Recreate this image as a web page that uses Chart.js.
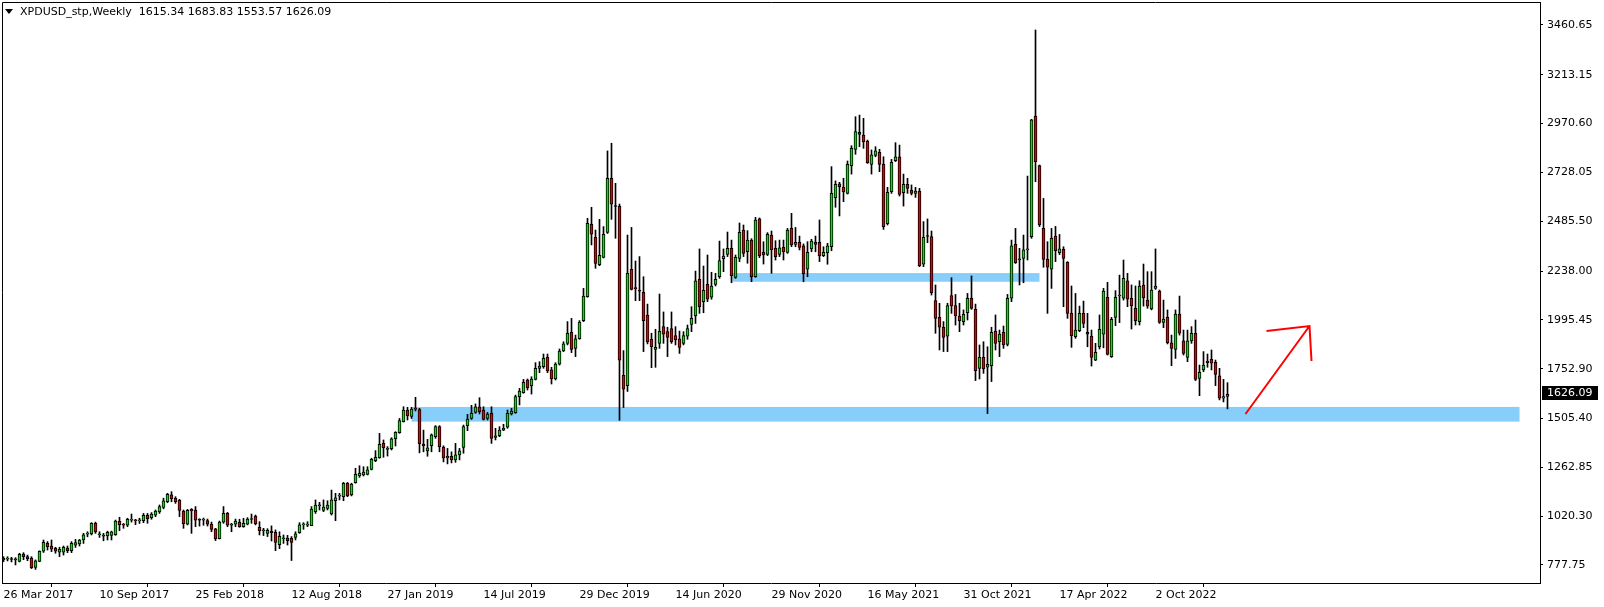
<!DOCTYPE html>
<html>
<head>
<meta charset="utf-8">
<title>XPDUSD Weekly</title>
<style>
html, body { margin: 0; padding: 0; background: #ffffff; }
#wrap { position: relative; width: 1604px; height: 607px; }
</style>
</head>
<body>
<div id="wrap"><canvas id="chart" width="1604" height="607"></canvas></div>
<script src="https://cdn.jsdelivr.net/npm/chart.js"></script>
<script>
  const headerText = 'XPDUSD_stp,Weekly  1615.34 1683.83 1553.57 1626.09';

  // weekly candles, first bar is the week of 26 Mar 2017
  const opens = [
    811, 807, 806, 805, 796, 832, 819, 812, 766, 796,
    846, 885, 872, 861, 842, 842, 862, 849, 876, 882,
    902, 931, 932, 985, 928, 922, 922, 925, 928, 995,
    977, 975, 1001, 998, 997, 998, 1025, 1013, 1025, 1041,
    1064, 1092, 1126, 1109, 1099, 1046, 980, 1054, 1051, 1001,
    1001, 999, 980, 957, 909, 991, 1034, 975, 980, 990,
    968, 981, 1004, 1021, 965, 948, 935, 945, 940, 879,
    908, 912, 910, 915, 938, 977, 976, 973, 1043, 1072,
    1049, 1059, 1031, 1097, 1120, 1117, 1184, 1126, 1187, 1220,
    1225, 1228, 1253, 1296, 1311, 1382, 1352, 1356, 1405, 1435,
    1490, 1548, 1516, 1553, 1550, 1379, 1345, 1371, 1415, 1465,
    1362, 1310, 1318, 1300, 1325, 1362, 1470, 1506, 1536, 1564,
    1548, 1506, 1531, 1412, 1420, 1448, 1462, 1528, 1535, 1614,
    1634, 1697, 1667, 1700, 1755, 1763, 1809, 1747, 1702, 1775,
    1841, 1879, 1934, 1854, 1902, 1992, 2111, 2470, 2406, 2270,
    2306, 2430, 2699, 2560, 2560, 1720, 1669, 2247, 2156, 2139,
    2132, 2020, 1899, 1849, 1879, 1962, 1937, 1952, 1917, 1902,
    1879, 1915, 1973, 2015, 2197, 2086, 2172, 2108, 2172, 2210,
    2300, 2321, 2351, 2207, 2301, 2442, 2334, 2392, 2210, 2497,
    2331, 2321, 2417, 2351, 2321, 2356, 2331, 2450, 2371, 2381,
    2363, 2247, 2348, 2381, 2381, 2315, 2330, 2359, 2603, 2671,
    2654, 2624, 2762, 2843, 2927, 2914, 2884, 2768, 2813, 2828,
    2770, 2474, 2633, 2787, 2806, 2628, 2669, 2641, 2624, 2636,
    2272, 2412, 2409, 2091, 2008, 1959, 1915, 2116, 2066, 2015,
    1987, 2031, 2103, 2048, 1755, 1809, 1760, 1768, 1940, 1887,
    1934, 1874, 2103, 2371, 2296, 2301, 2343, 2409, 3008, 2762,
    2450, 2298, 2247, 2412, 2330, 2346, 2281, 2028, 1912, 1942,
    2028, 1934, 1915, 1796, 1862, 1924, 2108, 1813, 2008, 2114,
    2103, 2189, 2103, 2053, 1987, 2169, 2094, 2050, 2152, 2139,
    1983, 2008, 1882, 1849, 2025, 1891, 1809, 1891, 1929, 1705,
    1747, 1791, 1800, 1785, 1718, 1606, 1615.34
  ];
  const highs = [
    819, 819, 816, 814, 836, 839, 827, 819, 803, 848,
    902, 894, 902, 866, 866, 872, 872, 894, 905, 905,
    935, 943, 988, 991, 943, 935, 946, 946, 1001, 1015,
    984, 1010, 1031, 1005, 1010, 1034, 1034, 1038, 1051, 1076,
    1110, 1134, 1142, 1117, 1104, 1051, 1054, 1058, 1068, 1008,
    1011, 1006, 991, 960, 996, 1068, 1039, 985, 1006, 1005,
    1010, 1013, 1031, 1026, 993, 960, 958, 972, 952, 943,
    927, 925, 919, 943, 988, 988, 993, 1068, 1101, 1089,
    1101, 1097, 1150, 1134, 1134, 1188, 1188, 1184, 1258, 1271,
    1266, 1266, 1308, 1346, 1432, 1399, 1366, 1410, 1440, 1506,
    1564, 1561, 1561, 1611, 1556, 1448, 1402, 1429, 1470, 1470,
    1370, 1357, 1340, 1382, 1357, 1473, 1526, 1571, 1578, 1609,
    1564, 1536, 1564, 1457, 1465, 1477, 1548, 1556, 1622, 1655,
    1700, 1702, 1713, 1783, 1788, 1826, 1826, 1760, 1783, 1851,
    1887, 1987, 2003, 1920, 1992, 2152, 2500, 2555, 2442, 2495,
    2459, 2835, 2873, 2674, 2571, 1843, 2417, 2455, 2288, 2310,
    2210, 2074, 1929, 1949, 2124, 2035, 1959, 2035, 1962, 1940,
    1937, 1970, 2061, 2238, 2348, 2263, 2318, 2232, 2227, 2387,
    2348, 2432, 2392, 2318, 2477, 2467, 2439, 2399, 2505, 2502,
    2384, 2429, 2437, 2389, 2392, 2392, 2450, 2525, 2455, 2412,
    2373, 2384, 2396, 2412, 2492, 2359, 2376, 2757, 2686, 2679,
    2699, 2785, 2861, 3005, 3013, 2997, 2889, 2840, 2856, 2843,
    2806, 2654, 2793, 2876, 2864, 2720, 2699, 2666, 2654, 2649,
    2484, 2497, 2437, 2169, 2078, 1987, 2078, 2205, 2122, 2078,
    2045, 2127, 2214, 2074, 1871, 1887, 1862, 1959, 2020, 1945,
    1965, 2122, 2392, 2450, 2351, 2417, 2710, 2992, 3436, 2765,
    2599, 2384, 2450, 2460, 2420, 2359, 2285, 2164, 2127, 2064,
    2089, 2028, 1945, 1879, 2020, 2152, 2182, 2008, 2141, 2218,
    2293, 2227, 2169, 2164, 2190, 2273, 2235, 2235, 2348, 2144,
    2094, 2045, 1920, 2045, 2114, 1945, 1945, 1962, 1995, 1771,
    1838, 1826, 1846, 1796, 1755, 1700, 1683.83
  ];
  const lows = [
    794, 798, 793, 778, 793, 804, 799, 760, 756, 794,
    840, 852, 844, 836, 819, 827, 839, 839, 865, 872,
    885, 918, 927, 935, 915, 898, 902, 902, 925, 948,
    960, 968, 991, 978, 984, 988, 985, 1005, 1018, 1034,
    1057, 1087, 1092, 1084, 1018, 960, 977, 935, 968, 971,
    975, 971, 943, 899, 907, 985, 968, 943, 968, 965,
    965, 977, 985, 977, 927, 924, 919, 897, 849, 859,
    885, 877, 800, 902, 935, 955, 968, 973, 1034, 1051,
    1043, 1051, 1026, 998, 1101, 1097, 1117, 1121, 1184, 1213,
    1220, 1225, 1250, 1291, 1308, 1313, 1319, 1349, 1369, 1432,
    1488, 1498, 1506, 1543, 1335, 1340, 1318, 1340, 1407, 1340,
    1290, 1280, 1285, 1288, 1300, 1333, 1445, 1501, 1531, 1528,
    1498, 1498, 1382, 1399, 1415, 1445, 1457, 1523, 1531, 1573,
    1631, 1647, 1627, 1697, 1733, 1755, 1733, 1677, 1697, 1771,
    1838, 1871, 1833, 1813, 1899, 1987, 2108, 2368, 2252, 2265,
    2303, 2425, 2495, 2401, 1497, 1560, 1640, 2144, 2091, 2091,
    1838, 1876, 1758, 1760, 1854, 1879, 1813, 1879, 1871, 1829,
    1871, 1899, 1937, 1978, 2028, 2031, 2086, 2098, 2164, 2202,
    2235, 2310, 2180, 2202, 2285, 2310, 2277, 2185, 2207, 2305,
    2273, 2315, 2227, 2293, 2310, 2293, 2326, 2359, 2359, 2343,
    2185, 2210, 2334, 2334, 2285, 2310, 2272, 2339, 2555, 2512,
    2583, 2621, 2720, 2818, 2856, 2848, 2773, 2720, 2806, 2732,
    2445, 2467, 2624, 2782, 2611, 2561, 2624, 2616, 2604, 2260,
    2260, 2379, 2119, 1929, 1846, 1838, 1838, 2028, 1970, 1937,
    1970, 1995, 2048, 1694, 1702, 1730, 1530, 1689, 1846, 1813,
    1854, 1866, 2086, 2276, 2169, 2180, 2293, 2401, 2682, 2459,
    2257, 2028, 2152, 2285, 2320, 2061, 2003, 1859, 1904, 1937,
    1957, 1862, 1766, 1793, 1851, 1857, 1821, 1809, 1967, 1982,
    2094, 2061, 1950, 1970, 1970, 2064, 2053, 2045, 2147, 1978,
    1957, 1876, 1768, 1804, 1920, 1821, 1788, 1879, 1694, 1619,
    1738, 1760, 1747, 1669, 1598, 1588, 1553.57
  ];
  const closes = [
    803, 808, 805, 803, 831, 819, 809, 765, 798, 846,
    890, 869, 856, 847, 856, 866, 849, 885, 889, 902,
    928, 932, 985, 942, 929, 921, 940, 943, 996, 978,
    976, 1005, 1002, 997, 999, 1025, 1008, 1031, 1046, 1068,
    1096, 1129, 1107, 1092, 1049, 983, 1049, 1046, 1001, 1000,
    1002, 981, 955, 909, 991, 1034, 975, 979, 996, 968,
    985, 1006, 1005, 983, 948, 949, 950, 938, 890, 920,
    909, 899, 890, 932, 977, 978, 977, 1056, 1076, 1073,
    1066, 1076, 1101, 1111, 1121, 1184, 1121, 1180, 1228, 1233,
    1240, 1250, 1303, 1313, 1377, 1361, 1353, 1404, 1437, 1495,
    1548, 1518, 1553, 1552, 1380, 1369, 1360, 1424, 1465, 1366,
    1310, 1318, 1300, 1325, 1345, 1465, 1503, 1531, 1564, 1540,
    1501, 1528, 1407, 1420, 1448, 1457, 1531, 1543, 1614, 1642,
    1685, 1659, 1702, 1755, 1766, 1804, 1742, 1702, 1776, 1841,
    1876, 1929, 1849, 1901, 1985, 2114, 2475, 2421, 2276, 2316,
    2421, 2699, 2570, 2559, 1795, 1651, 2227, 2147, 2150, 2138,
    1992, 1886, 1862, 1859, 1939, 1925, 1909, 1887, 1896, 1859,
    1917, 1952, 2003, 2190, 2061, 2142, 2098, 2164, 2197, 2290,
    2313, 2351, 2215, 2306, 2431, 2326, 2392, 2210, 2492, 2315,
    2318, 2421, 2343, 2310, 2354, 2334, 2442, 2368, 2381, 2356,
    2224, 2331, 2387, 2371, 2313, 2331, 2363, 2624, 2669, 2657,
    2633, 2768, 2848, 2931, 2917, 2881, 2777, 2815, 2835, 2768,
    2459, 2629, 2778, 2806, 2619, 2669, 2649, 2624, 2636, 2265,
    2406, 2410, 2131, 2003, 1959, 1909, 2066, 2065, 2015, 1992,
    2023, 2103, 2053, 1743, 1809, 1752, 1775, 1934, 1879, 1925,
    1871, 2103, 2364, 2280, 2294, 2343, 2345, 2989, 2782, 2467,
    2296, 2257, 2401, 2339, 2348, 2301, 2028, 1917, 1945, 2028,
    1978, 1924, 1809, 1834, 1949, 2139, 1824, 1998, 2108, 2115,
    2202, 2098, 2066, 1992, 2164, 2106, 2064, 2144, 2164, 1983,
    2000, 1882, 1854, 2025, 1929, 1829, 1891, 1929, 1700, 1735,
    1771, 1783, 1780, 1725, 1606, 1615, 1626.09
  ];

  const dateLabels = ['26 Mar 2017', '10 Sep 2017', '25 Feb 2018', '12 Aug 2018', '27 Jan 2019',
    '14 Jul 2019', '29 Dec 2019', '14 Jun 2020', '29 Nov 2020', '16 May 2021',
    '31 Oct 2021', '17 Apr 2022', '2 Oct 2022'];
  const dateLabelBars = [0, 24, 48, 72, 96, 120, 144, 168, 192, 216, 240, 264, 288];
  const priceTicks = [777.75, 1020.30, 1262.85, 1505.40, 1752.90, 1995.45,
    2238.00, 2485.50, 2728.05, 2970.60, 3213.15, 3460.65];

  // blue zones: bar from / bar to / low / high
  const zoneFrom = [102, 182.25];
  const zoneTo = [379, 259];
  const zoneLow = [1490, 2185];
  const zoneHigh = [1563, 2228];

  // red arrow: tail, tip, two head ends (bar index, price)
  const arrowBars = [310.5, 326.5, 315.75, 327];
  const arrowPrices = [1528, 1965, 1940, 1791];

  Chart.defaults.font.family = '"DejaVu Sans", Tahoma, sans-serif';
  Chart.defaults.font.size = 11;
  Chart.defaults.color = '#000';

  const bodies = opens.map((o, i) => ({x: i, y: [o, closes[i]]}));
  const wicks = opens.map((o, i) => ({x: i, y: [lows[i], highs[i]]}));
  const bodyColors = opens.map((o, i) => closes[i] >= o ? '#00e600' : '#e60000');

  const extras = {
    id: 'extras',
    beforeDatasetsDraw(chart) {
      const {ctx, scales: {x, y}} = chart;
      ctx.save();
      ctx.fillStyle = '#87cefa';
      for (let i = 0; i < zoneFrom.length; i++) {
        const x1 = x.getPixelForValue(zoneFrom[i]);
        const x2 = x.getPixelForValue(zoneTo[i]);
        const y1 = y.getPixelForValue(zoneHigh[i]);
        const y2 = y.getPixelForValue(zoneLow[i]);
        ctx.fillRect(x1, y1, x2 - x1, y2 - y1);
      }
      ctx.restore();
    },
    afterDraw(chart) {
      const {ctx, chartArea: a, scales: {x, y}} = chart;
      ctx.save();
      // frame
      ctx.strokeStyle = '#000';
      ctx.lineWidth = 1;
      ctx.beginPath();
      ctx.moveTo(a.left + 0.5, a.bottom);
      ctx.lineTo(a.left + 0.5, a.top + 0.5);
      ctx.lineTo(a.right, a.top + 0.5);
      ctx.stroke();

      // arrow
      const px = arrowBars.map(v => x.getPixelForValue(v));
      const py = arrowPrices.map(v => y.getPixelForValue(v));
      ctx.strokeStyle = '#ff0000';
      ctx.lineWidth = 2;
      ctx.beginPath();
      ctx.moveTo(px[0], py[0]); ctx.lineTo(px[1], py[1]);
      ctx.moveTo(px[2], py[2]); ctx.lineTo(px[1], py[1]); ctx.lineTo(px[3], py[3]);
      ctx.stroke();

      // header
      ctx.fillStyle = '#000';
      ctx.beginPath();
      ctx.moveTo(5, 9); ctx.lineTo(13, 9); ctx.lineTo(9, 14); ctx.closePath();
      ctx.fill();
      ctx.font = '11px "DejaVu Sans", Tahoma, sans-serif';
      ctx.textBaseline = 'middle';
      ctx.textAlign = 'left';
      ctx.fillText(headerText, 20, 12);

      // last price label
      const last = closes[closes.length - 1];
      const ly = Math.round(y.getPixelForValue(last));
      ctx.fillStyle = '#000';
      ctx.fillRect(a.right + 2, ly - 8, 56, 14);
      ctx.fillStyle = '#fff';
      ctx.fillText(last.toFixed(2), a.right + 7, ly - 1);
      ctx.restore();
    }
  };

  new Chart(document.getElementById('chart'), {
    type: 'bar',
    data: {
      datasets: [
        {
          data: bodies,
          backgroundColor: bodyColors,
          borderColor: '#000',
          borderWidth: 1,
          borderSkipped: false,
          barThickness: 3,
          minBarLength: 1,
          grouped: false
        },
        {
          data: wicks,
          backgroundColor: '#000',
          borderWidth: 0,
          barThickness: 1,
          grouped: false
        }
      ]
    },
    options: {
      responsive: false,
      animation: false,
      devicePixelRatio: 1,
      layout: { padding: { left: 2, top: 2, right: 0, bottom: 0 } },
      plugins: { legend: { display: false }, tooltip: { enabled: false } },
      scales: {
        x: {
          type: 'linear',
          min: -0.375,
          max: 384.125,
          offset: false,
          grid: { drawOnChartArea: false, tickLength: 4, color: '#000' },
          border: { color: '#000' },
          afterBuildTicks: s => { s.ticks = dateLabelBars.map(v => ({value: v})); },
          ticks: {
            autoSkip: false, maxRotation: 0, align: 'start', padding: 2,
            callback: v => dateLabels[dateLabelBars.indexOf(v)]
          },
          afterFit: s => { s.height = 24; s.paddingLeft = 0; s.paddingRight = 0; }
        },
        y: {
          position: 'right',
          min: 688.3,
          max: 3574.9,
          grid: { drawOnChartArea: false, tickLength: 3, color: '#000' },
          border: { color: '#000' },
          afterBuildTicks: s => { s.ticks = priceTicks.map(v => ({value: v})); },
          ticks: { padding: 4, callback: v => v.toFixed(2) },
          afterFit: s => { s.width = 64; s.paddingTop = 0; s.paddingBottom = 0; }
        }
      }
    },
    plugins: [extras]
  });
</script>
</body>
</html>
